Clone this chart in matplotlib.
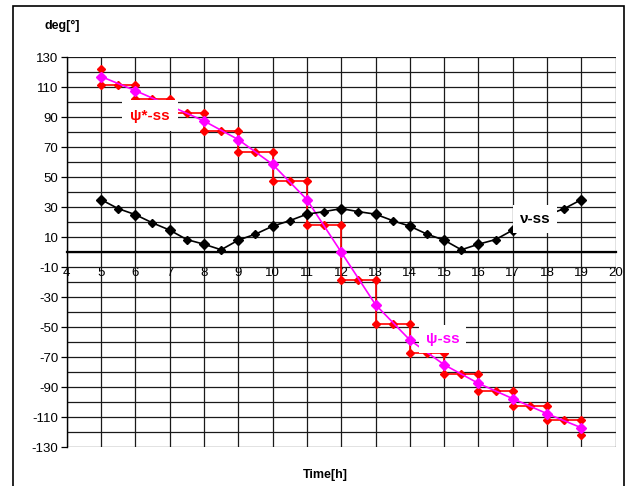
import numpy as np
import matplotlib.pyplot as plt
from matplotlib.patches import Rectangle
from matplotlib.ticker import MultipleLocator

plt.rcParams['font.family'] = ['Liberation Sans', 'DejaVu Sans']
plt.rcParams['axes.unicode_minus'] = False

# nu-ss: every half hour from 5h to 19h
nu_t = [5, 5.5, 6, 6.5, 7, 7.5, 8, 8.5, 9, 9.5, 10, 10.5, 11, 11.5, 12,
        12.5, 13, 13.5, 14, 14.5, 15, 15.5, 16, 16.5, 17, 17.5, 18, 18.5, 19]
nu_v = [35, 29, 25, 19.5, 14.7, 8.4, 5.3, 1.6, 8, 12, 17.3, 21, 25.3, 27, 29,
        27, 25.3, 21, 17.3, 12, 8, 1.6, 5.3, 8.4, 14.7, 19.5, 24.7, 29, 35]

# psi-ss: every hour
psi_t = [5, 6, 7, 8, 9, 10, 11, 12, 13, 14, 15, 16, 17, 18, 19]
psi_v = [117, 107.6, 97.6, 87.4, 75, 58.5, 35, 0,
         -35, -58.5, -75, -87.4, -97.6, -107.6, -117]

# psi*-ss: staircase, steps at each full hour
psis_t = [5, 5, 5.5, 6, 6, 6.5, 7, 7, 7.5, 8, 8, 8.5, 9, 9, 9.5, 10, 10, 10.5, 11,
          11, 11.5, 12, 12, 12.5, 13, 13, 13.5, 14, 14, 14.5, 15, 15, 15.5, 16,
          16, 16.5, 17, 17, 17.5, 18, 18, 18.5, 19, 19]
psis_v = [122, 111.5, 111.5, 111.5, 102.2, 102.2, 102.2, 92.4, 92.4, 92.4,
          81, 81, 81, 67, 67, 67, 47.6, 47.6, 47.6, 18.4, 18.4, 18.4,
          -18.4, -18.4, -18.4, -47.6, -47.6, -47.6, -67, -67, -67,
          -81, -81, -81, -92.4, -92.4, -92.4, -102.2, -102.2, -102.2,
          -111.5, -111.5, -111.5, -122]

fig = plt.figure(figsize=(6.33, 4.86), dpi=100)
ax = fig.add_axes([0.1054, 0.0796, 0.8673, 0.8031])

# outer frame of the chart area
fig.patches.append(Rectangle((12.5 / 633, -0.01), 611 / 633, 1 - 6 / 486 + 0.01,
                             transform=fig.transFigure, fill=False,
                             edgecolor='black', lw=1.2))

ax.plot(psis_t, psis_v, color='red', lw=1.2, marker='D', ms=3.6, zorder=3)
ax.plot(psi_t, psi_v, color='magenta', lw=1.2, marker='D', ms=5.2, zorder=4)
ax.plot(nu_t, nu_v, color='black', lw=1.2, marker='D', ms=3.6, zorder=5)
ax.plot(nu_t[::2], nu_v[::2], color='black', lw=0, marker='D', ms=5.2, zorder=5)

ax.set_xlim(4, 20)
ax.set_ylim(-130, 130)
ax.xaxis.set_major_locator(MultipleLocator(1))
ax.set_yticks(np.arange(-130, 131, 20))
ax.yaxis.set_minor_locator(MultipleLocator(10))
ax.grid(True, which='both', color='#1a1a1a', lw=0.9)
ax.set_axisbelow(True)

for s in ['top', 'right']:
    ax.spines[s].set_visible(False)
ax.spines['left'].set_linewidth(1.0)
ax.spines['bottom'].set_position(('data', 0))
ax.spines['bottom'].set_linewidth(1.6)
ax.tick_params(axis='y', which='major', length=4, width=0.9, pad=2, labelsize=9.5)
ax.tick_params(axis='y', which='minor', length=0)
ax.tick_params(axis='x', length=0, pad=11, labelsize=9.5)

bbox = dict(facecolor='white', edgecolor='none', pad=5)
ax.text(6.42, 91, 'ψ*-ss', color='red', fontsize=11, fontweight='bold',
        ha='center', va='center', bbox=dict(facecolor='white', edgecolor='none', pad=6), zorder=10)
ax.text(14.95, -58, 'ψ-ss', color='magenta', fontsize=11, fontweight='bold',
        ha='center', va='center', bbox=bbox, zorder=10)
ax.text(17.65, 22, 'ν-ss', color='black', fontsize=11, fontweight='bold',
        ha='center', va='center', bbox=bbox, zorder=10)

fig.text(62 / 633, 1 - 26 / 486, 'deg[°]', fontsize=9, fontweight='bold',
         ha='center', va='center')
fig.text(325 / 633, 1 - 475 / 486, 'Time[h]', fontsize=9, fontweight='bold',
         ha='center', va='center')

fig.savefig('out.png', dpi=100)
